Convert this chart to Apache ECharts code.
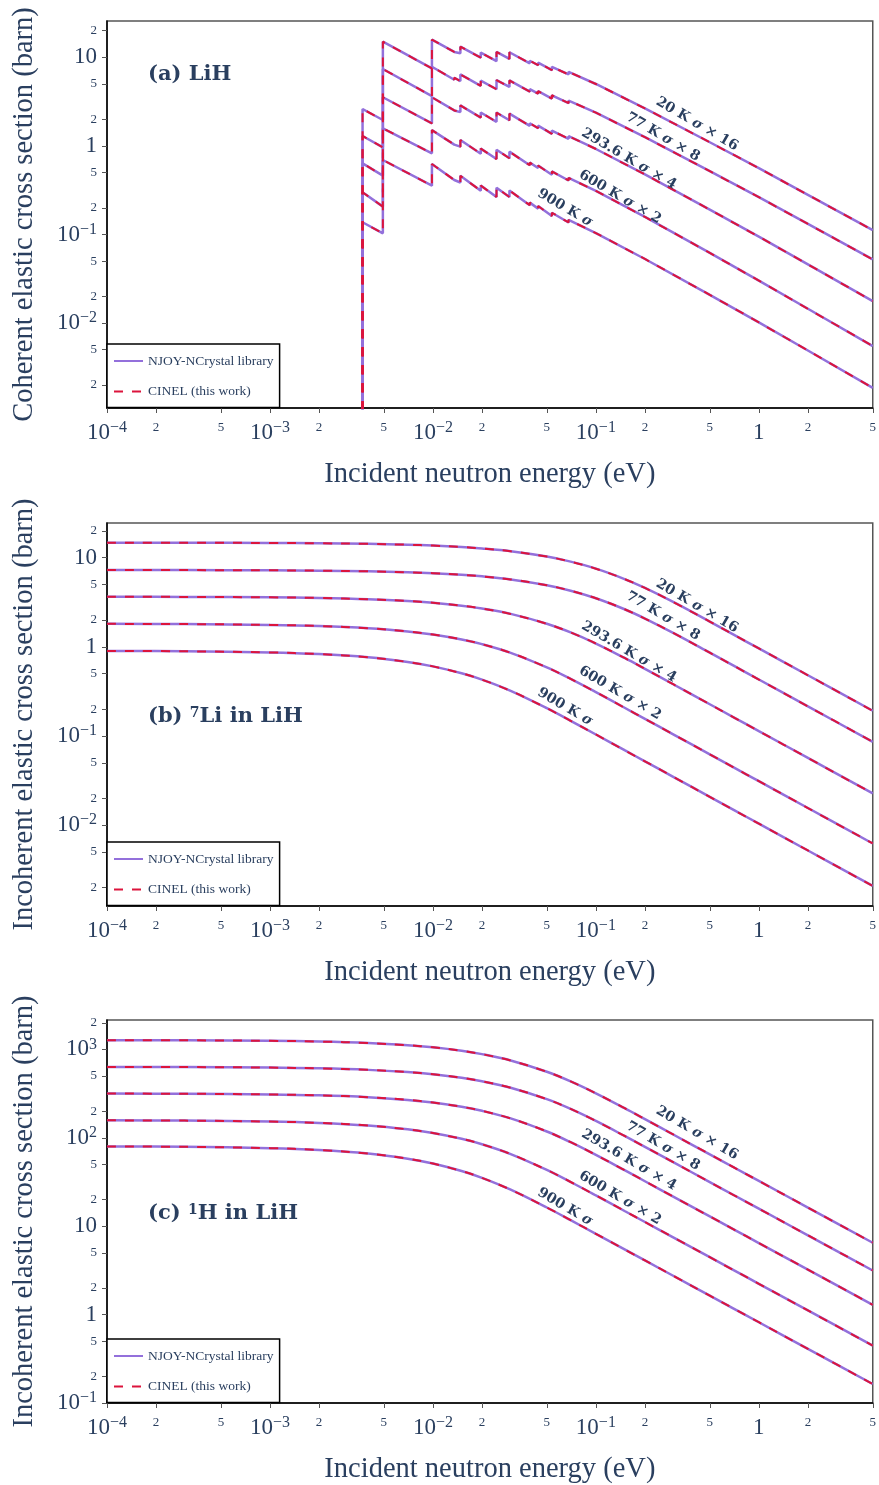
<!DOCTYPE html>
<html><head><meta charset="utf-8">
<script src="https://cdn.jsdelivr.net/npm/echarts@6/dist/echarts.min.js"></script>
<style>html,body{margin:0;padding:0;background:#fff}#c{width:879px;height:1485px}</style>
</head><body><div id="c"></div>
<script>
// ---------- (a) coherent elastic, LiH ----------
const E_COH = [0.0037, 0.0037, 0.00493, 0.00493, 0.00986, 0.00986, 0.01352, 0.01352, 0.01474, 0.01474,
  0.01966, 0.01966, 0.02456, 0.02456, 0.02948, 0.02948, 0.0393, 0.0393, 0.0442, 0.0442,
  0.0537, 0.0537, 0.068, 0.068, 0.1, 0.2, 0.5, 1, 2, 5];
const COH_20K = [1e-4, 2.61, 1.96, 15.0, 7.5, 15.8, 11.5, 12.1, 11.1, 13.2, 9.9, 11.3, 9.05, 11.5, 9.6, 11.4,
  8.55, 9.15, 8.14, 8.7, 7.16, 7.8, 6.4, 6.85, 5.0, 2.65, 1.1, 0.56, 0.28, 0.112];
const COH_77K = [1e-4, 1.294, 0.964, 7.38, 3.65, 7.83, 5.58, 5.88, 5.39, 6.41, 4.77, 5.45, 4.36, 5.54, 4.63, 5.49,
  4.09, 4.37, 3.89, 4.16, 3.42, 3.73, 3.04, 3.25, 2.37, 1.254, 0.519, 0.2636, 0.1315, 0.0523];
const COH_293K = [1e-4, 0.636, 0.462, 3.54, 1.80, 3.54, 2.514, 2.645, 2.408, 2.863, 2.087, 2.382, 1.869, 2.375, 1.947, 2.312,
  1.685, 1.803, 1.583, 1.692, 1.368, 1.49, 1.203, 1.288, 0.923, 0.476, 0.191, 0.0944, 0.046, 0.0177];
const COH_600K = [1e-4, 0.2996, 0.2064, 1.58, 0.825, 1.508, 1.034, 1.088, 0.980, 1.166, 0.817, 0.932, 0.710, 0.903, 0.725, 0.861,
  0.605, 0.648, 0.562, 0.600, 0.4726, 0.515, 0.407, 0.436, 0.31, 0.1577, 0.0619, 0.0302, 0.0145, 0.0055];
const COH_900K = [1e-4, 0.1374, 0.1032, 0.693, 0.356, 0.625, 0.412, 0.4334, 0.3864, 0.4595, 0.3122, 0.3564, 0.2654, 0.3373, 0.2646, 0.3142,
  0.214, 0.229, 0.1959, 0.2094, 0.1615, 0.176, 0.1367, 0.1463, 0.1038, 0.0529, 0.02085, 0.01018, 0.0049, 0.00186];

// ---------- (b),(c) incoherent elastic ----------
const E_INC = [1e-4, 3e-4, 1e-3, 2e-3, 4e-3, 7e-3, 0.01, 0.015, 0.02, 0.03, 0.05, 0.07, 0.1, 0.15, 0.2, 0.3, 0.5, 0.7, 1, 2, 5];
const LI_20K = [14.73, 14.71, 14.63, 14.52, 14.30, 13.98, 13.66, 13.17, 12.69, 11.81, 10.29, 9.03, 7.53, 5.76, 4.576, 3.167, 1.919, 1.371, 0.96, 0.48, 0.1919];
const LI_77K = [7.274, 7.262, 7.219, 7.158, 7.039, 6.865, 6.70, 6.431, 6.176, 5.71, 4.913, 4.266, 3.51, 2.642, 2.078, 1.425, 0.8605, 0.6147, 0.4302, 0.2151, 0.0861];
const LI_293K = [3.644, 3.632, 3.592, 3.535, 3.425, 3.269, 3.121, 2.896, 2.692, 2.342, 1.815, 1.451, 1.090, 0.7507, 0.5666, 0.3784, 0.227, 0.1622, 0.1135, 0.05676, 0.0227];
const LI_600K = [1.811, 1.800, 1.764, 1.714, 1.6195, 1.491, 1.376, 1.2105, 1.072, 0.8576, 0.5891, 0.4374, 0.3105, 0.2076, 0.1557, 0.1038, 0.06229, 0.04449, 0.03114, 0.01557, 0.00623];
const LI_900K = [0.9001, 0.8923, 0.8658, 0.8296, 0.7636, 0.6771, 0.6039, 0.505, 0.4285, 0.321, 0.2052, 0.1482, 0.104, 0.0693, 0.052, 0.03465, 0.02079, 0.01485, 0.0104, 0.0052, 0.00208];

const H_20K = [1272.5, 1267.5, 1250.3, 1226.3, 1180, 1114.7, 1054.7, 963.7, 883.6, 749.5, 558.6, 434.5, 318.6, 216.1, 162.5, 108.3, 65.0, 46.43, 32.5, 16.25, 6.50];
const H_77K = [633.7, 631.2, 622.4, 610.1, 586.5, 553.4, 522.7, 476.6, 436.1, 368.6, 273.3, 211.9, 154.9, 104.9, 78.86, 52.58, 31.55, 22.53, 15.77, 7.887, 3.155];
const H_293K = [316.4, 314.9, 309.5, 302.1, 287.9, 268.4, 250.5, 224.3, 201.9, 165.8, 117.9, 89.17, 64.01, 42.98, 32.24, 21.5, 12.9, 9.212, 6.449, 3.224, 1.29];
const H_600K = [157.5, 156.4, 152.6, 147.4, 137.7, 124.6, 113.2, 97.32, 84.48, 65.46, 43.3, 31.62, 22.29, 14.86, 11.15, 7.431, 4.458, 3.185, 2.229, 1.115, 0.4457];
const H_900K = [79.81, 79.03, 76.4, 72.82, 66.37, 58.07, 51.15, 42.05, 35.19, 25.87, 16.27, 11.7, 8.196, 5.464, 4.098, 2.732, 1.639, 1.171, 0.8196, 0.4098, 0.164];

// ---------- ticks & labels ----------
const X_TICKS = [1e-4, 2e-4, 5e-4, 1e-3, 2e-3, 5e-3, 0.01, 0.02, 0.05, 0.1, 0.2, 0.5, 1, 2, 5];
const Y_TICKS_AB = [0.002, 0.005, 0.01, 0.02, 0.05, 0.1, 0.2, 0.5, 1, 2, 5, 10, 20];
const Y_TICKS_C = [0.1, 0.2, 0.5, 1, 2, 5, 10, 20, 50, 100, 200, 500, 1000, 2000];
const TEMP_LABELS = ['20 K {i|σ} × 16', '77 K {i|σ} × 8', '293.6 K {i|σ} × 4', '600 K {i|σ} × 2', '900 K {i|σ}'];
const LEGEND_NAMES = ['NJOY-NCrystal library', 'CINEL (this work)'];
const X_TITLE = 'Incident neutron energy (eV)';
const Y_TITLES = ['Coherent elastic cross section (barn)', 'Incoherent elastic cross section (barn)', 'Incoherent elastic cross section (barn)'];

const TXT = '#2a3f5f', PURPLE = '#9370DB', RED = '#DC143C';
const SERIF = 'Liberation Serif, Times New Roman, serif';
const SLAB = 'DejaVu Serif, serif';

function fmt(v) {
  const e = Math.floor(Math.log10(v) + 1e-9);
  const m = Math.round(v / Math.pow(10, e));
  if (m !== 1) return '{mn|' + m + '}';
  if (e === 0) return '{mj|1}';
  if (e === 1) return '{mj|10}';
  return '{mj|10}{sp|' + (e < 0 ? '\u2212' + (-e) : e) + '}';
}
const RICH = {
  mj: {fontSize: 23, lineHeight: 26, fontFamily: SERIF, color: TXT},
  sp: {fontSize: 16, lineHeight: 12, verticalAlign: 'top', fontFamily: SERIF, color: TXT},
  mn: {fontSize: 13, lineHeight: 15, fontFamily: SERIF, color: TXT}
};

const panels = [
  {top: 21, height: 387, ymin: 0.0011, ymax: 25.7, yt: Y_TICKS_AB, E: E_COH,
   curves: [COH_20K, COH_77K, COH_293K, COH_600K, COH_900K], smooth: false, legendTop: 344},
  {top: 523, height: 383, ymin: 0.00124, ymax: 24.5, yt: Y_TICKS_AB, E: E_INC,
   curves: [LI_20K, LI_77K, LI_293K, LI_600K, LI_900K], smooth: 0.35, legendTop: 842},
  {top: 1020, height: 383, ymin: 0.1, ymax: 2150, yt: Y_TICKS_C, E: E_INC,
   curves: [H_20K, H_77K, H_293K, H_600K, H_900K], smooth: 0.35, legendTop: 1339}
];

const grid = [], xAxis = [], yAxis = [], series = [], legend = [];
panels.forEach((p, i) => {
  grid.push({left: 107, top: p.top, width: 769, height: p.height, show: true,
    borderColor: '#555', borderWidth: 1.5, backgroundColor: 'transparent'});
  xAxis.push({gridIndex: i, type: 'log', logBase: 10, min: 1e-4, max: 5,
    axisLine: {show: true, onZero: false, lineStyle: {color: '#000', width: 1.5}},
    axisTick: {show: true, customValues: X_TICKS, length: 5, inside: false, lineStyle: {color: '#555', width: 1}},
    axisLabel: {customValues: X_TICKS, formatter: fmt, margin: 12, rich: RICH, color: TXT, showMinLabel: true, showMaxLabel: true},
    splitLine: {show: false}, minorTick: {show: false},
    name: X_TITLE, nameLocation: 'middle', nameGap: 52,
    nameTextStyle: {fontFamily: SERIF, fontSize: 28.5, color: TXT}});
  yAxis.push({gridIndex: i, type: 'log', logBase: 10, min: p.ymin, max: p.ymax,
    axisLine: {show: true, onZero: false, lineStyle: {color: '#000', width: 1.5}},
    axisTick: {show: true, customValues: p.yt, length: 5, inside: false, lineStyle: {color: '#555', width: 1}},
    axisLabel: {customValues: p.yt, formatter: fmt, margin: 10, rich: RICH, color: TXT, showMinLabel: true, showMaxLabel: true},
    splitLine: {show: false}, minorTick: {show: false},
    name: Y_TITLES[i], nameLocation: 'middle', nameGap: 68,
    nameTextStyle: {fontFamily: SERIF, fontSize: 28.5, color: TXT}});
  const mk = (vals, name, color, width, type, z) => ({
    type: 'line', name, xAxisIndex: i, yAxisIndex: i,
    data: p.E.map((e, k) => [e, vals[k]]),
    symbol: 'none', showSymbol: false, smooth: p.smooth, clip: true, silent: true,
    emphasis: {disabled: true}, z,
    itemStyle: {color}, lineStyle: {color, width, type}
  });
  p.curves.forEach(c => series.push(mk(c, LEGEND_NAMES[0], PURPLE, 2.5, 'solid', 2)));
  p.curves.forEach(c => series.push(mk(c, LEGEND_NAMES[1], RED, 2, [9, 9], 3)));
  legend.push({data: LEGEND_NAMES, orient: 'vertical', left: 107, top: p.legendTop,
    padding: [10, 6, 9, 6], itemGap: 16.5, itemWidth: 29, itemHeight: 14,
    borderColor: '#000', borderWidth: 1.5, backgroundColor: '#fff', borderRadius: 0,
    selectedMode: false, z: 10,
    itemStyle: {opacity: 0, color: 'transparent', borderWidth: 0},
    textStyle: {fontFamily: SERIF, fontSize: 13.5, color: TXT}});
});

// annotations
const ANN_POS = [
  [[697, 124], [663, 137], [629, 159], [620, 197], [565, 208]],
  [[697, 606], [663, 616], [629, 652], [620, 693], [565, 707]],
  [[697, 1133], [663, 1146], [629, 1160], [620, 1198], [565, 1207]]
];
const graphic = [];
ANN_POS.forEach(list => list.forEach((pt, k) => {
  graphic.push({type: 'text', x: pt[0], y: pt[1], rotation: -0.53, z: 20,
    style: {text: TEMP_LABELS[k], fontFamily: SLAB, fontWeight: 'bold', fontSize: 14, fill: TXT,
      align: 'center', verticalAlign: 'middle',
      rich: {i: {fontFamily: SLAB, fontWeight: 'bold', fontStyle: 'italic', fontSize: 14, fill: TXT}}}});
}));
const TITLES = [
  {t: '(a) LiH', y: 75},
  {t: '(b) {s|7}Li in LiH', y: 717},
  {t: '(c) {s|1}H in LiH', y: 1214}
];
TITLES.forEach(o => graphic.push({type: 'text', x: 148, y: o.y, z: 20,
  style: {text: o.t, fontFamily: SLAB, fontWeight: 'bold', fontSize: 21, fill: TXT,
    align: 'left', verticalAlign: 'middle',
    rich: {s: {fontFamily: SLAB, fontWeight: 'bold', fontSize: 14, fill: TXT, verticalAlign: 'top', lineHeight: 14}}}}));

const chart = echarts.init(document.getElementById('c'), null, {renderer: 'canvas'});
chart.setOption({animation: false, backgroundColor: '#fff', grid, xAxis, yAxis, series, legend, graphic});
</script></body></html>
